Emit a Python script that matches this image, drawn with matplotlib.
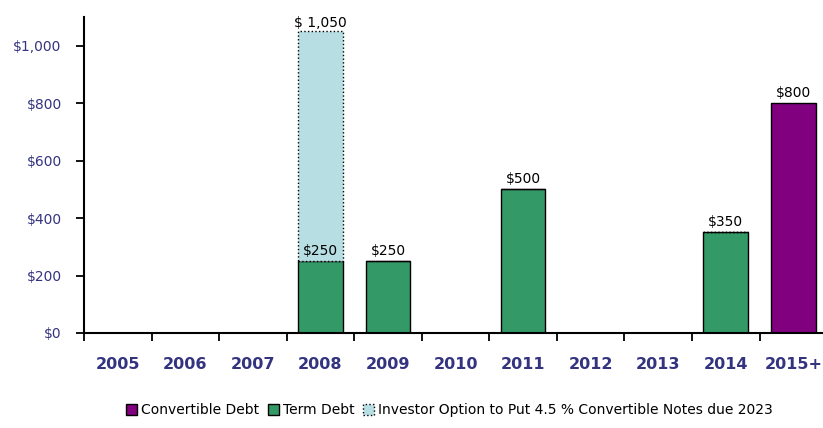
import matplotlib.pyplot as plt
import numpy as np

years = ["2005", "2006", "2007", "2008", "2009", "2010", "2011", "2012", "2013", "2014", "2015+"]
convertible = [0, 0, 0, 0, 0, 0, 0, 0, 0, 0, 800]
term = [0, 0, 0, 250, 250, 0, 500, 0, 0, 350, 0]
put_option = [0, 0, 0, 800, 0, 0, 0, 0, 0, 0, 0]

green = "#339966"
purple = "#800080"
lightblue = "#b7dfe3"
navy = "#333380"

fig = plt.figure(figsize=(8.23, 4.28), dpi=100)
ax = fig.add_axes([0.102, 0.222, 0.903, 0.738])

x = np.arange(len(years))
w = 0.66
term = np.array(term)
put_option = np.array(put_option)
convertible = np.array(convertible)

ax.bar(x, convertible, w, color=purple, edgecolor="black", linewidth=1, label="Convertible Debt")
ax.bar(x, term, w, color=green, edgecolor="black", linewidth=1, label="Term Debt")
ax.bar(x, put_option, w, bottom=term, color=lightblue, edgecolor="black",
       linewidth=1, linestyle=":", label="Investor Option to Put 4.5 % Convertible Notes due 2023")

# value labels above each column
for i in x:
    if term[i] > 0:
        ax.text(i, term[i] + 12, f"${term[i]:,}", ha="center", va="bottom", fontsize=10)
    if convertible[i] > 0:
        ax.text(i, convertible[i] + 12, f"${convertible[i]:,}", ha="center", va="bottom", fontsize=10)
    if put_option[i] > 0:
        total = term[i] + put_option[i]
        ax.text(i, total + 5, f"$ {total:,}", ha="center", va="bottom", fontsize=10)

ax.set_xlim(-0.5, 10.45)
ax.set_ylim(0, 1100)
ax.set_yticks(range(0, 1001, 200))
ax.set_yticklabels([f"${v:,}" for v in range(0, 1001, 200)], color=navy, fontsize=10)
ax.set_xticks(x)
ax.set_xticklabels(years, color=navy, fontsize=11.5, fontweight="heavy")
ax.set_xticks(np.arange(-0.5, 10.6, 1), minor=True)
ax.tick_params(axis="x", which="major", length=0, pad=17)
ax.tick_params(axis="x", which="minor", length=6, direction="out", width=1.3)
ax.tick_params(axis="y", length=6, direction="out", width=1.3, pad=10)

for s in ["top", "right"]:
    ax.spines[s].set_visible(False)
for s in ["left", "bottom"]:
    ax.spines[s].set_linewidth(1.5)

handles, labels = ax.get_legend_handles_labels()
fig.legend(handles, labels, loc="center", bbox_to_anchor=(0.546, 0.042), ncol=3, frameon=False,
           fontsize=10, handlelength=0.8, handleheight=0.8, handletextpad=0.3, columnspacing=0.6)

fig.savefig("out.png", dpi=100)
